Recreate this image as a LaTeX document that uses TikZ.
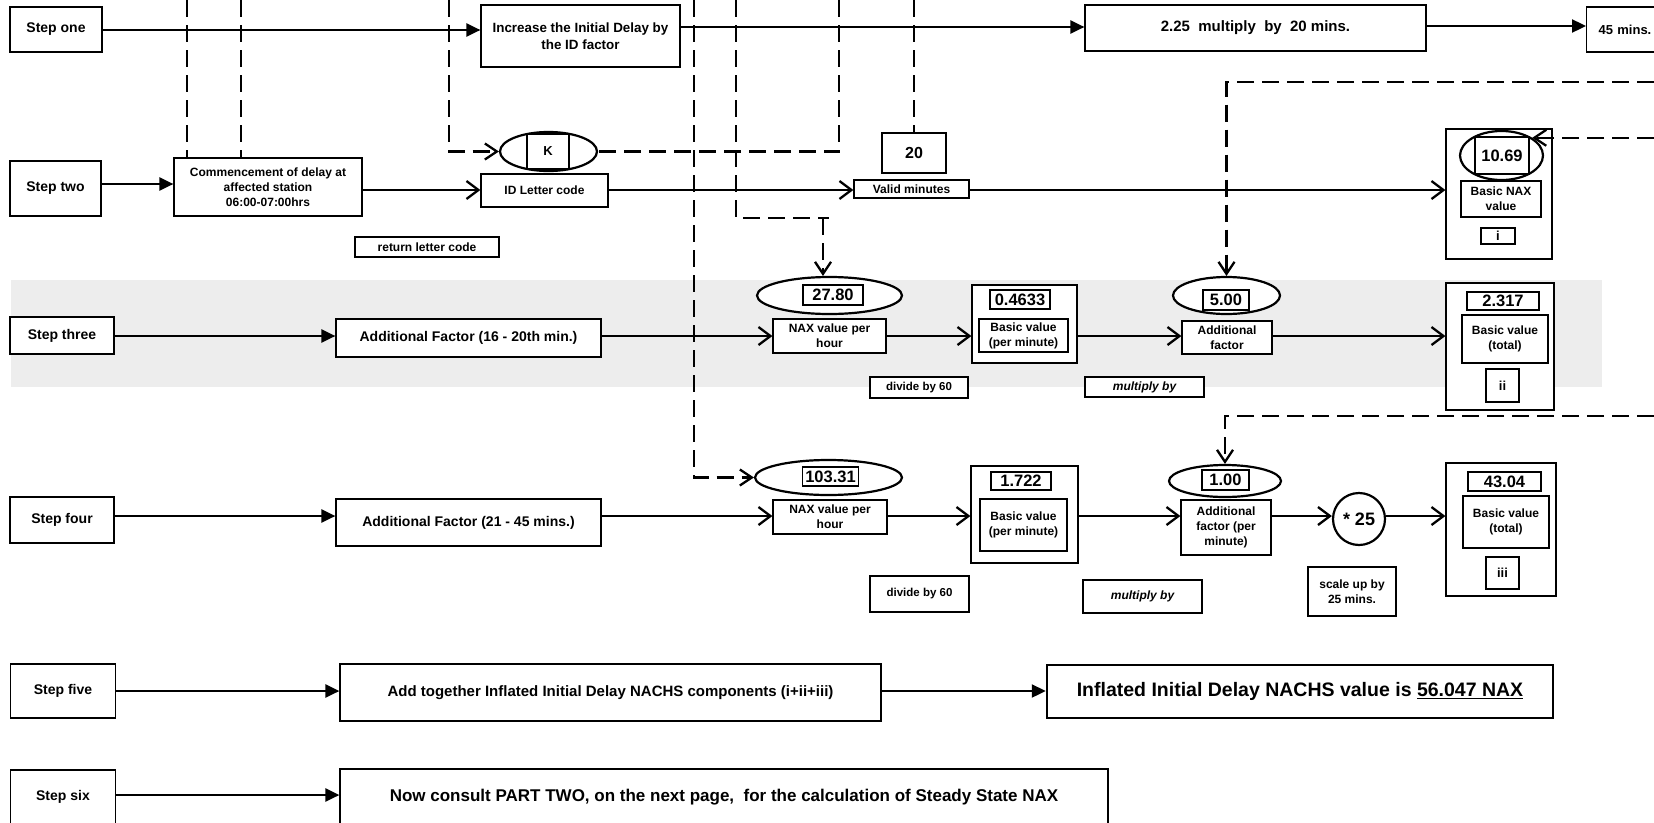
\documentclass[tikz,border=0pt]{standalone}
\usepackage{fontspec}
\setmainfont{Liberation Sans}
\usetikzlibrary{arrows.meta,shapes.geometric}
\newcommand\fsz[2]{\fontsize{#1}{#2}\selectfont\bfseries}
\tikzset{
  box/.style={draw, line width=1.2pt, fill=white, inner sep=0pt, align=center, font=\fsz{12}{15}},
  sz/.style 2 args={minimum width=#1pt, minimum height=#2pt},
  ell/.style={ellipse, draw, line width=2.2pt, fill=white, inner sep=0pt},
  stepfont/.style={font=\fsz{14}{17}},
  numfont/.style={font=\fsz{16.5}{19}},
  romfont/.style={font=\fsz{13}{15}},
  con/.style={line width=2.3pt},
  sarr/.style={con, -{Triangle[length=14pt,width=13pt]}},
  oarr/.style={con, -{Straight Barb[length=12pt,width=18pt]}},
  dsh/.style={line width=2.3pt, dash pattern=on 17pt off 8pt},
  darr/.style={dsh, -{Straight Barb[length=12pt,width=16pt]}},
}
\begin{document}
\begin{tikzpicture}[x=1pt,y=-1pt]
\useasboundingbox (0,0) rectangle (1654,822);
\fill[white] (0,0) rectangle (1654,822);
\clip (0,0) rectangle (1654,822);
% shaded band of step three
\fill[black!7] (11,280) rectangle (1602,387);

% row coordinates and free ends
\coordinate (r1) at (0,30);
\coordinate (r1b) at (0,27);
\coordinate (r1c) at (0,26);
\coordinate (r2a) at (0,184);
\coordinate (r2) at (0,190);
\coordinate (r3) at (0,336);
\coordinate (r4) at (0,516);
\coordinate (r5) at (0,691);
\coordinate (r6) at (0,795);
\coordinate (t1) at (187,0);
\coordinate (t2) at (241,0);
\coordinate (t3) at (449,0);
\coordinate (t4) at (694,0);
\coordinate (t5) at (736,0);
\coordinate (j5) at (829,218);
\coordinate (j5b) at (823,218);
\coordinate (t6) at (839,0);
\coordinate (t7) at (914,0);
\coordinate (t8) at (1654,82);
\coordinate (t9) at (1654,0);
\coordinate (t10) at (1654,416);

% ---------- step one
\node[box, sz={92}{45}, stepfont] (s1) at (56,29.5) {Step one};
\node[box, sz={199}{62}, font=\fsz{13.4}{17}] (inc) at (580.5,36) {Increase the Initial Delay by\\the ID factor};
\node[box, sz={341}{46}, font=\fsz{15}{18}] (mul) at (1255.5,28) {2.25\ \ multiply\ \ by\ \ 20 mins.};
\node[box, anchor=west, minimum height=45pt, text width=110pt, align=left, inner xsep=12pt, font=\fsz{13}{16}] (m45) at (1586,29.5) {45 mins.};

% ---------- step two
\node[box, sz={91}{55}, stepfont] (s2) at (55.5,188.5) {Step two};
\node[box, sz={188}{58}] (com) at (268,187) {Commencement of delay at\\affected station\\06:00-07:00hrs};
\node[box, sz={127}{33}] (idl) at (544.5,190.5) {ID Letter code};
\node[ell, sz={97}{39}] (kell) at (548.5,151.5) {};
\node[box, sz={42}{35}, romfont] (kbox) at (548,151.5) {K};
\node[box, sz={144}{20}] (rlc) at (427,247) {return letter code};
\node[box, sz={64}{40}, font=\fsz{16}{19}] (b20) at (914,153) {20};
\node[box, sz={115}{18}] (vm) at (911.5,189) {Valid minutes};
\node[box, sz={106}{130}] (bnaxO) at (1499,194) {};
\node[ell, sz={83}{49}] (e1069) at (1501.5,155.5) {};
\node[box, sz={54}{37}, numfont] (n1069) at (1502,155.5) {10.69};
\node[box, sz={80}{36}] (bnax) at (1501,199) {Basic NAX\\value};
\node[box, sz={34}{16}, romfont] (bi) at (1498,236) {i};

% ---------- step three
\node[box, sz={104}{37}, stepfont] (s3) at (62,335.5) {Step three};
\node[box, sz={265}{38}, stepfont] (af3) at (468.5,338) {Additional Factor (16 - 20th min.)};
\node[ell, sz={145}{37}] (e2780) at (829.5,295.5) {};
\node[box, sz={60}{20}, numfont] (n2780) at (833,295) {27.80};
\node[box, sz={113}{34}] (nax3) at (829.5,336) {NAX value per\\hour};
\node[box, sz={105}{78}] (bas3) at (1024.5,324) {};
\node[box, sz={60}{19}, numfont] (n4633) at (1020,299.5) {0.4633};
\node[box, sz={89}{33}] (bpm3) at (1023.5,335.5) {Basic value\\(per minute)};
\node[ell, sz={107}{37}] (e500) at (1226.5,295.5) {};
\node[box, sz={46}{20}, numfont] (n500) at (1226,300) {5.00};
\node[box, sz={90}{33}] (add3) at (1227,337.5) {Additional\\factor};
\node[box, sz={108}{127}] (tot3) at (1500,346.5) {};
\node[box, sz={72}{18}, numfont] (n2317) at (1503,301) {2.317};
\node[box, sz={86}{48}] (bt3) at (1505,339) {Basic value\\(total)};
\node[box, sz={33}{33}, romfont] (bii) at (1502.5,385.5) {ii};
\node[box, sz={98}{21}, font=\fsz{11.5}{14}] (div3) at (919,387.5) {divide by 60};
\node[box, sz={119}{20}, font=\fsz{12}{14}\itshape] (mby3) at (1144.5,387) {multiply by};

% ---------- step four
\node[box, sz={104}{46}, stepfont] (s4) at (62,520) {Step four};
\node[box, sz={265}{47}, stepfont] (af4) at (468.5,522.5) {Additional Factor (21 - 45 mins.)};
\node[ell, sz={147}{35}] (e10331) at (828.5,477.5) {};
\node[box, sz={56}{19}, numfont] (n10331) at (830.5,476.5) {103.31};
\node[box, sz={114}{34}] (nax4) at (830,517) {NAX value per\\hour};
\node[box, sz={107}{97}] (bas4) at (1024.5,514.5) {};
\node[box, sz={60}{18}, numfont] (n1722) at (1021,481) {1.722};
\node[box, sz={87}{52}] (bpm4) at (1023.5,525) {Basic value\\(per minute)};
\node[ell, sz={112}{32}] (e100) at (1225,481) {};
\node[box, sz={47}{20}, numfont] (n100) at (1225.5,480) {1.00};
\node[box, sz={90}{55}] (add4) at (1226,527.5) {Additional\\factor (per\\minute)};
\node[circle, draw, line width=2.2pt, fill=white, minimum size=52pt, inner sep=0pt, font=\fsz{18}{20}] (c25) at (1359,519) {* 25};
\node[box, sz={110}{133}] (tot4) at (1501,529.5) {};
\node[box, sz={73}{19}, numfont] (n4304) at (1504.5,481.5) {43.04};
\node[box, sz={86}{52}] (bt4) at (1506,522) {Basic value\\(total)};
\node[box, sz={33}{32}, romfont] (biii) at (1502.5,573) {iii};
\node[box, sz={99}{36}, font=\fsz{11.5}{14}] (div4) at (919.5,594) {divide by 60};
\node[box, sz={119}{33}, font=\fsz{12}{14}\itshape] (mby4) at (1142.5,596.5) {multiply by};
\node[box, sz={88}{49}] (scl) at (1352,591.5) {scale up by\\25 mins.};

% ---------- step five
\node[box, sz={105}{54}, stepfont] (s5) at (63,691) {Step five};
\node[box, sz={541}{57}, font=\fsz{15}{18}] (add5) at (610.5,692.5) {Add together Inflated Initial Delay NACHS components (i+ii+iii)};
\node[box, sz={506}{53}, line width=2.5pt, font=\fsz{19.5}{24}] (infl) at (1300,691.5) {Inflated Initial Delay NACHS value is \underline{56.047 NAX}};

% ---------- step six
\node[box, minimum width=105pt, anchor=base, text height=30pt, text depth=50pt, stepfont] (s6) at (63,800) {Step six};
\node[box, minimum width=768pt, anchor=base, text height=32pt, text depth=50pt, font=\fsz{17}{20}] (nc) at (724,801) {Now consult PART TWO, on the next page,\ \ for the calculation of Steady State NAX};

% ---------- solid connectors
\draw[sarr] (s1.east |- r1) -- (inc.west |- r1);
\draw[sarr] (inc.east |- r1b) -- (mul.west |- r1b);
\draw[sarr] (mul.east |- r1c) -- (m45.west |- r1c);
\draw[sarr] (s2.east |- r2a) -- (com.west |- r2a);
\draw[oarr] (com.east |- r2) -- (idl.west |- r2);
\draw[oarr] (idl.east |- r2) -- (vm.west |- r2);
\draw[oarr] (vm.east |- r2) -- (bnaxO.west |- r2);
\draw[sarr] (s3.east |- r3) -- (af3.west |- r3);
\draw[oarr] (af3.east |- r3) -- (nax3.west |- r3);
\draw[oarr] (nax3.east |- r3) -- (bas3.west |- r3);
\draw[oarr] (bas3.east |- r3) -- (add3.west |- r3);
\draw[oarr] (add3.east |- r3) -- (tot3.west |- r3);
\draw[sarr] (s4.east |- r4) -- (af4.west |- r4);
\draw[oarr] (af4.east |- r4) -- (nax4.west |- r4);
\draw[oarr] (nax4.east |- r4) -- (bas4.west |- r4);
\draw[oarr] (bas4.east |- r4) -- (add4.west |- r4);
\draw[oarr] (add4.east |- r4) -- (c25.west |- r4);
\draw[oarr] (c25.east |- r4) -- (tot4.west |- r4);
\draw[sarr] (s5.east |- r5) -- (add5.west |- r5);
\draw[sarr] (add5.east |- r5) -- (infl.west |- r5);
\draw[sarr] (s6.east |- r6) -- (nc.west |- r6);

% ---------- dashed connectors
\draw[dsh] (t1) -- (t1 |- com.north);
\draw[dsh] (t2) -- (t2 |- com.north);
\draw[darr] (t3) |- (kell.west);
\draw[darr] (t4) |- (e10331.west);
\draw[dsh] (t5) |- (j5);
\draw[darr] (j5b) -- (j5b |- e2780.north);
\draw[dsh] (t6) |- (kell.east);
\draw[dsh] (t7) -- (b20.north);
\draw[darr] (t8) -| (e500.north);
\draw[darr] (t9 |- e1069.30) -- (e1069.30);
\draw[darr] (t10) -| (e100.north);
\end{tikzpicture}
\end{document}
